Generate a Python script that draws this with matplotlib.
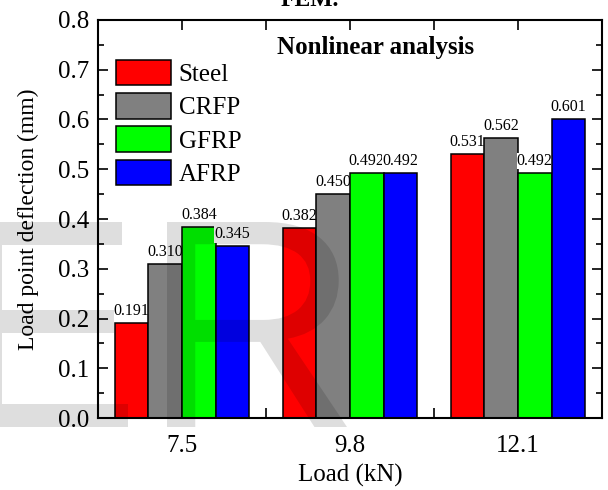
import numpy as np
import matplotlib.pyplot as plt
from matplotlib.textpath import TextPath
from matplotlib.patches import PathPatch
from matplotlib.font_manager import FontProperties
from matplotlib.transforms import Affine2D

plt.rcParams['font.family'] = ['Liberation Serif', 'DejaVu Serif']

# data
loads = ['7.5', '9.8', '12.1']
series = ['Steel', 'CRFP', 'GFRP', 'AFRP']
steel = [0.191, 0.382, 0.531]
crfp = [0.310, 0.450, 0.562]
gfrp = [0.384, 0.492, 0.492]
afrp = [0.345, 0.492, 0.601]
colors = ['#FF0000', '#808080', '#00FF00', '#0000FF']

W, H = 608, 490
fig = plt.figure(figsize=(W / 100, H / 100), dpi=100)
ax = fig.add_axes([98/W, 72/H, 504/W, 398/H])

x = np.arange(len(loads))
w = 0.2
for i, (name, vals) in enumerate(zip(series, [steel, crfp, gfrp, afrp])):
    bars = ax.bar(x + (i - 1.5) * w, vals, w, color=colors[i], edgecolor='black',
                  linewidth=1.1, label=name, zorder=2 + 2 * i)
    ax.bar_label(bars, fmt='%.3f', padding=3, fontsize=11.5, zorder=3 + 2 * i,
                 bbox=dict(facecolor='white', edgecolor='none', pad=0.2))

ax.set_xlim(-0.5, 2.5)
ax.set_ylim(0, 0.8)
ax.set_xticks([0, 0.5, 1, 1.5, 2])
ax.set_xticklabels([loads[0], '', loads[1], '', loads[2]])
ax.set_yticks(np.arange(0, 0.81, 0.1))
ax.set_yticks(np.arange(0, 0.81, 0.05), minor=True)
ax.yaxis.set_major_formatter(plt.FormatStrFormatter('%.1f'))
ax.tick_params(which='both', direction='in', top=True, right=True, labelsize=18, width=1.2)
ax.tick_params(which='major', length=7.5)
ax.tick_params(axis='y', which='major', pad=6)
ax.tick_params(axis='x', which='major', pad=12)
ax.tick_params(which='minor', length=4.5)
ax.set_axisbelow(True)
for s in ax.spines.values():
    s.set_linewidth(1.5)
    s.set_zorder(20)

ax.set_xlabel('Load (kN)', fontsize=18, labelpad=5)
ax.set_ylabel('Load point deflection (mm)', fontsize=17, labelpad=14)

ax.text(0.55, 0.932, 'Nonlinear analysis', transform=ax.transAxes, fontsize=18,
        fontweight='bold', ha='center', va='center', zorder=30)

leg = ax.legend(loc='upper left', bbox_to_anchor=(0.036, 0.9), frameon=False,
                fontsize=18, handlelength=2.2, handleheight=1.2, handletextpad=0.3,
                labelspacing=0.28, borderpad=0, borderaxespad=0)
leg.set_zorder(30)

fig.text(310/W, 1 - 1/H, 'FEM.', fontsize=17, fontweight='bold',
         ha='center', va='center')

# faint watermark letters (partly outside the picture), fitted to pixel boxes
wm_font = FontProperties(family='Liberation Sans')
for letter, (x0, x1) in [('E', (-24, 128)), ('R', (167, 347))]:
    tp = TextPath((0, 0), letter, size=100, prop=wm_font)
    bb = tp.get_extents()
    tr = (Affine2D().translate(-bb.x0, -bb.y0)
          .scale((x1 - x0) / bb.width, (427 - 222) / bb.height)
          .translate(x0, H - 427).scale(1 / W, 1 / H) + fig.transFigure)
    fig.add_artist(PathPatch(tp, transform=tr, facecolor='black', edgecolor='none',
                             alpha=0.13, zorder=50))

fig.savefig('out.png', dpi=100)
